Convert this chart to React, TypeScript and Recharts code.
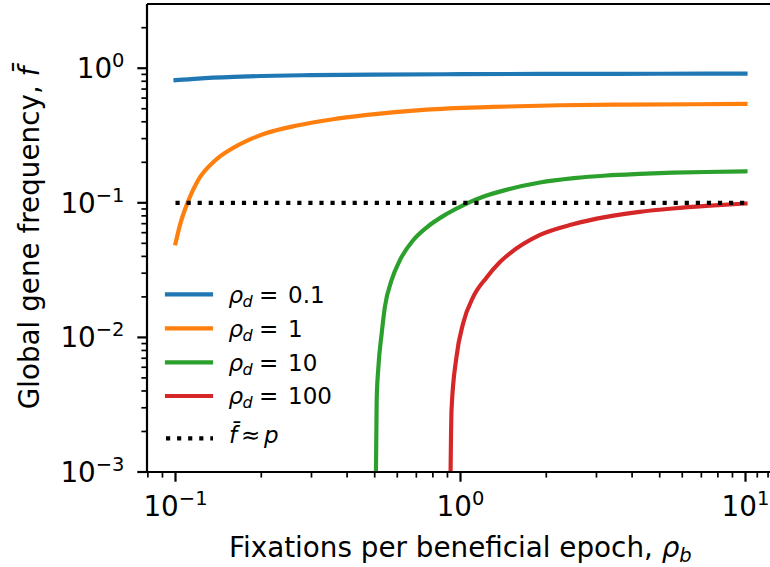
import React from 'react';
import { LineChart, Line, XAxis, YAxis, ReferenceLine } from 'recharts';

// rho_d for each curve, matplotlib tab10 colours
const RHO_D = ['0.1', '1', '10', '100'];
const COLORS = ['#1f77b4', '#ff7f0e', '#2ca02c', '#d62728'];

// values: x = fixations per beneficial epoch, y = global gene frequency
const X_RD01 = [0.1, 0.12, 0.16, 0.2, 0.3, 0.5, 1, 2, 5, 10];
const Y_RD01 = [0.815, 0.838, 0.862, 0.875, 0.888, 0.897, 0.903, 0.907, 0.91, 0.912];

const X_RD1 = [0.1, 0.104, 0.111, 0.12, 0.138, 0.158, 0.18, 0.206, 0.27, 0.353, 0.462, 0.76, 1.3, 2.23, 3.81, 6.53, 10];
const Y_RD1 = [0.05, 0.07, 0.104, 0.147, 0.207, 0.253, 0.292, 0.327, 0.377, 0.416, 0.448, 0.493, 0.516, 0.531, 0.537, 0.54, 0.543];

const X_RD10 = [0.505, 0.508, 0.515, 0.529, 0.543, 0.573, 0.613, 0.682, 0.76, 0.893, 1.05, 1.2, 1.45, 1.9, 2.5, 3.25, 4.25, 5.56, 7.27, 10];
const Y_RD10 = [0.001, 0.0034, 0.006, 0.0107, 0.0169, 0.0266, 0.0375, 0.0527, 0.0655, 0.0825, 0.0988, 0.111, 0.125, 0.1415, 0.1525, 0.1595, 0.164, 0.1675, 0.1695, 0.1714];

const X_RD100 = [0.923, 0.93, 0.968, 1.021, 1.107, 1.233, 1.373, 1.449, 1.9, 2.48, 3.25, 4.25, 5.56, 7.27, 10];
const Y_RD100 = [0.001, 0.00288, 0.00716, 0.0127, 0.0199, 0.0278, 0.0362, 0.0401, 0.0577, 0.0693, 0.0786, 0.0856, 0.0907, 0.0948, 0.0988];

// reference level f ≈ p
const P_X = [0.1, 10];
const P_Y = [0.1, 0.1];

// axis ticks (log axes)
const X_MAJOR = [0.1, 1, 10];
const X_MINOR = [0.08, 0.09, 0.2, 0.3, 0.4, 0.5, 0.6, 0.7, 0.8, 0.9, 2, 3, 4, 5, 6, 7, 8, 9, 11, 12];
const Y_MAJOR = [0.001, 0.01, 0.1, 1];
const Y_MINOR = [
  0.002, 0.003, 0.004, 0.005, 0.006, 0.007, 0.008, 0.009,
  0.02, 0.03, 0.04, 0.05, 0.06, 0.07, 0.08, 0.09,
  0.2, 0.3, 0.4, 0.5, 0.6, 0.7, 0.8, 0.9, 2,
];

const X_DOMAIN = [Math.pow(10, -1.1), Math.pow(10, 1.1)];
const Y_DOMAIN = [0.001, 3];

const toPoints = (xs: number[], ys: number[]) => xs.map((x, i) => ({ x, y: ys[i] }));

const SERIES = [
  { name: RHO_D[0], color: COLORS[0], points: toPoints(X_RD01, Y_RD01) },
  { name: RHO_D[1], color: COLORS[1], points: toPoints(X_RD1, Y_RD1) },
  { name: RHO_D[2], color: COLORS[2], points: toPoints(X_RD10, Y_RD10) },
  { name: RHO_D[3], color: COLORS[3], points: toPoints(X_RD100, Y_RD100) },
];
const P_POINTS = toPoints(P_X, P_Y);

const W = 784;
const H = 567;
const FS = 27.8;
const SUP = 19.5;
const LW = 4.17;
const LEG_FS = 23;

const expText = (v: number) => {
  const e = Math.round(Math.log10(v));
  return e < 0 ? `\u2212${-e}` : `${e}`;
};

function XTick(props: any) {
  const { x, y, payload } = props;
  const major = X_MAJOR.includes(payload.value);
  return (
    <g>
      <line x1={x} x2={x} y1={y} y2={y + (major ? 9.7 : 5.6)} stroke="#000" strokeWidth={major ? 2.2 : 1.7} />
      {major && (
        <text x={x} y={y + 43.6} textAnchor="middle" fontSize={FS} fill="#000">
          10<tspan dy={-11} fontSize={SUP}>{expText(payload.value)}</tspan>
        </text>
      )}
    </g>
  );
}

function YTick(props: any) {
  const { x, y, payload } = props;
  const major = Y_MAJOR.includes(payload.value);
  return (
    <g>
      <line x1={x} x2={x - (major ? 9.7 : 5.6)} y1={y} y2={y} stroke="#000" strokeWidth={major ? 2.2 : 1.7} />
      {major && (
        <text x={x - 22.5} y={y + 10} textAnchor="end" fontSize={FS} fill="#000">
          10<tspan dy={-11} fontSize={SUP}>{expText(payload.value)}</tspan>
        </text>
      )}
    </g>
  );
}

function LegendBlock() {
  const rows = [294.3, 328.3, 362.3, 396];
  return (
    <g>
      {SERIES.map((s, i) => (
        <g key={s.name}>
          <line x1={167} x2={211} y1={rows[i]} y2={rows[i]} stroke={s.color} strokeWidth={LW} strokeLinecap="square" />
          <text y={rows[i] + 8.3} fontSize={LEG_FS} fill="#000">
            <tspan x={228.5} fontStyle="italic">ρ</tspan>
            <tspan x={242.5} fontStyle="italic" fontSize={16} dy={4}>d</tspan>
            <tspan x={259} dy={-4}>=</tspan>
            <tspan x={288}>{s.name}</tspan>
          </text>
        </g>
      ))}
      <line x1={166} x2={213} y1={438.3} y2={438.3} stroke="#000" strokeWidth={LW} strokeDasharray="4.17 6.9" />
      <text y={443} fontSize={LEG_FS} fill="#000">
        <tspan x={229} fontStyle="italic">{'f\u0304'}</tspan>
        <tspan x={241}>≈</tspan>
        <tspan x={264} fontStyle="italic">p</tspan>
      </text>
    </g>
  );
}

export default function App() {
  const xTicks = [...X_MAJOR, ...X_MINOR].sort((a, b) => a - b);
  const yTicks = [...Y_MAJOR, ...Y_MINOR].sort((a, b) => a - b);
  return (
    <div
      style={{
        position: 'fixed',
        left: 0,
        top: 0,
        width: 770,
        height: 567,
        overflow: 'hidden',
        background: '#fff',
        fontFamily: '"DejaVu Sans", sans-serif',
      }}
    >
      <LineChart width={W} height={H} margin={{ top: 4, right: 10, bottom: 0, left: 0 }}>
        <XAxis
          dataKey="x"
          type="number"
          scale="log"
          domain={X_DOMAIN}
          allowDataOverflow
          ticks={xTicks}
          interval={0}
          tick={<XTick />}
          tickLine={false}
          tickSize={0}
          tickMargin={0}
          height={95}
          axisLine={{ stroke: '#000', strokeWidth: 2.2 }}
        />
        <YAxis
          type="number"
          scale="log"
          domain={Y_DOMAIN}
          allowDataOverflow
          ticks={yTicks}
          interval={0}
          tick={<YTick />}
          tickLine={false}
          tickSize={0}
          tickMargin={0}
          width={147}
          axisLine={{ stroke: '#000', strokeWidth: 2.2 }}
        />
        <ReferenceLine y={Y_DOMAIN[1]} stroke="#000" strokeWidth={2.2} />
        {SERIES.map((s) => (
          <Line
            key={s.name}
            data={s.points}
            dataKey="y"
            type="monotone"
            stroke={s.color}
            strokeWidth={LW}
            strokeLinecap="square"
            strokeLinejoin="round"
            dot={false}
            activeDot={false}
            isAnimationActive={false}
          />
        ))}
        <Line
          data={P_POINTS}
          dataKey="y"
          type="linear"
          stroke="#000"
          strokeWidth={LW}
          strokeDasharray="4.17 6.9"
          dot={false}
          activeDot={false}
          isAnimationActive={false}
        />
        <text x={460.4} y={556.7} textAnchor="middle" fontSize={FS} fill="#000">
          Fixations per beneficial epoch,{' '}
          <tspan fontStyle="italic">ρ</tspan>
          <tspan fontStyle="italic" fontSize={SUP} dy={5}>b</tspan>
        </text>
        <text x={38.5} y={238} transform="rotate(-90 38.5 238)" textAnchor="middle" fontSize={FS} fill="#000">
          Global gene frequency, <tspan fontStyle="italic">{'f\u0304'}</tspan>
        </text>
        <LegendBlock />
      </LineChart>
    </div>
  );
}
